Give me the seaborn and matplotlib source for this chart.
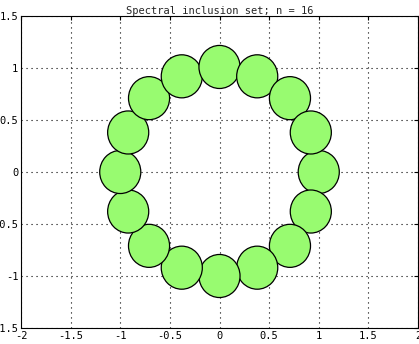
import matplotlib
matplotlib.use('Agg')
from matplotlib import pyplot as plt
from matplotlib.patches import Circle
import seaborn as sns

# disc centres and radii
center_x = [1, 0.92, 0.71, 0.38, 0, -0.38, -0.71, -0.92,
            -1, -0.92, -0.71, -0.38, 0, 0.38, 0.71, 0.92]
center_y = [0, -0.38, -0.71, -0.92, -1, -0.92, -0.71, -0.38,
            0, 0.38, 0.71, 0.92, 1.01, 0.92, 0.71, 0.38]
radius = [0.207] * 16

x_ticks = [-2, -1.5, -1, -0.5, 0, 0.5, 1, 1.5, 2]
y_ticks = [-1.5, -1, -0.5, 0, 0.5, 1, 1.5]
title = 'Spectral inclusion set; n = 16'

sns.set_style('white')
plt.rcParams['font.family'] = ['DejaVu Sans Mono']

fig = plt.figure(figsize=(4.19, 3.44), dpi=100)
ax = fig.add_axes([21 / 419, 16 / 344, 397 / 419, 312 / 344])

for cx, cy, r in zip(center_x, center_y, radius):
    ax.add_patch(Circle((cx, cy), r, facecolor='#98fb70',
                        edgecolor='black', linewidth=0.9, zorder=3))

ax.set_xlim(-2, 2)
ax.set_ylim(-1.5, 1.5)
ax.set_xticks(x_ticks)
ax.set_yticks(y_ticks)
ax.set_xticklabels(['{:g}'.format(v) for v in x_ticks])
ax.set_yticklabels(['{:g}'.format(v) for v in y_ticks])
ax.grid(True, color='black', linestyle=(0, (1, 3.5)), linewidth=0.8)
for line in ax.get_xgridlines() + ax.get_ygridlines():
    line.set_zorder(4)
ax.tick_params(direction='in', length=3, width=0.8, top=True, right=True,
               labelsize=7.5, pad=2, colors='black')
for s in ax.spines.values():
    s.set_color('black')
    s.set_linewidth(0.8)
    s.set_zorder(5)
ax.set_title(title, fontsize=7.5, pad=1.5)

fig.savefig('out.png', dpi=100)
